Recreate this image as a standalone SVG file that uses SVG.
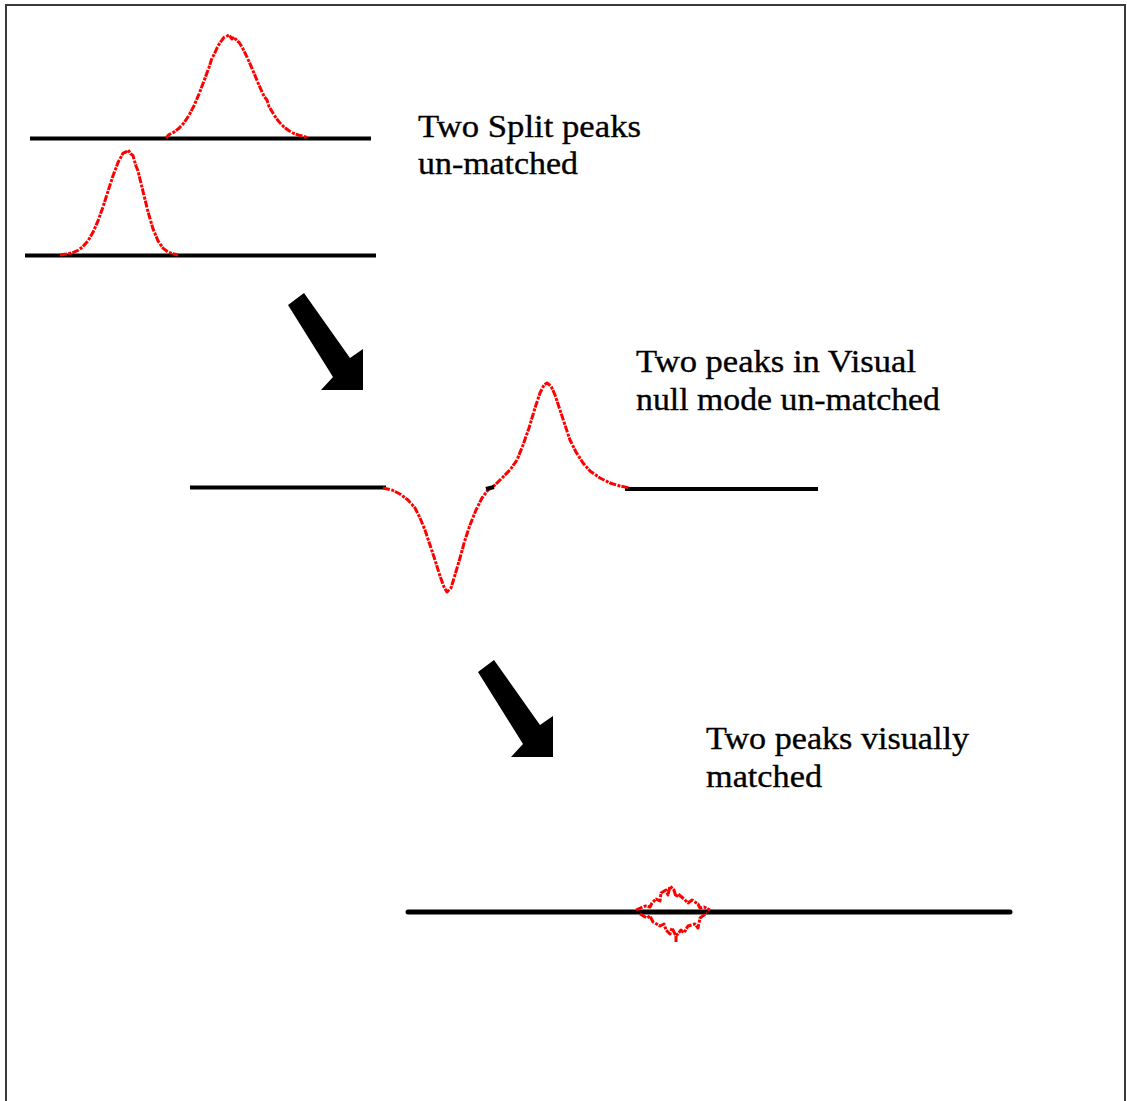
<svg xmlns="http://www.w3.org/2000/svg" width="1127" height="1101" viewBox="0 0 1127 1101">
<defs>
<style>
.frame{stroke:#3a3a3a;stroke-width:2;fill:none}
.base{stroke:#000;stroke-width:4;fill:none;stroke-linecap:butt}
.sig{stroke:#ff0000;stroke-width:3;fill:none;stroke-linejoin:round;stroke-dasharray:7 1.5 3 1}
.lbl{font-family:"Liberation Serif","Times New Roman",serif;font-size:32px;fill:#000;stroke:#000;stroke-width:0.35}
.arrow{fill:#000}
</style>
<polygon id="arrowShape" points="288,305 304,293 350,358 363,349 363,390 321,390 333,377"/>
</defs>
<rect width="1127" height="1101" fill="#fff"/>
<g id="frame">
<line class="frame" x1="6" y1="5" x2="6" y2="1101"/>
<line class="frame" x1="5" y1="5" x2="1126" y2="5"/>
<line class="frame" x1="1125" y1="5" x2="1125" y2="1101"/>
</g>
<g id="split-peaks">
<line class="base" x1="30" y1="138.5" x2="371" y2="138.5"/>
<path class="sig" d="M166,138 L169,134.6 174,132.1 179,128.3 184,122.8 189,115.3 194,105.7 199,94 204,80.9 209,67.4 212,58 214,54.8 217,48 219,44.3 222,40 224,37.4 227,36 229,35 232,39 234,36.9 237,41 239,42.3 242,47 244,50.8 249,61.4 254,73.1 259,85.1 264,96.4 267,100 269,106.5 274,114.9 279,121.8 284,127 289,130.8 294,133.5 299,135.2 304,136.4 308,138"/>
<line class="base" x1="25" y1="255.5" x2="376" y2="255.5"/>
<path class="sig" d="M60,255 L63,254.5 68,253.8 73,252.6 78,250.4 83,246.6 88,240.8 93,232.3 98,220.9 103,206.9 108,191.3 113,175.7 116,168 118,162.4 121,157 123,153.2 126,152 128,150 131,154 133,155.7 136,166 138,170.9 143,191.3 148,211.8 153,228.8 158,240.8 163,248.1 168,252 173,253.8 178,255"/>
<text class="lbl" x="418" y="137" textLength="223" lengthAdjust="spacingAndGlyphs">Two Split peaks</text>
<text class="lbl" x="418" y="174" textLength="160" lengthAdjust="spacingAndGlyphs">un-matched</text>
</g>
<g id="null-mode">
<line class="base" x1="190" y1="487.5" x2="386" y2="487.5"/>
<line class="base" x1="625" y1="489" x2="818" y2="489"/>
<path class="sig" d="M383,488 L392,490 400,494 408,500 415,508 420,518 425,530 430,545 435,560 440,576 444,587 447,592 451,588 455,575 460,558 465,540 470,525 476,510 482,498 488,490 495,485 502,478 510,470 517,460 523,445 529,428 535,408 540,393 544,385 547,383 551,386 555,395 560,410 565,425 570,440 576,452 583,463 590,471 600,478 610,483 620,486 630,488"/>
<line class="base" x1="486" y1="489" x2="494" y2="487"/>
<text class="lbl" x="636" y="372" textLength="280" lengthAdjust="spacingAndGlyphs">Two peaks in Visual</text>
<text class="lbl" x="636" y="410" textLength="304" lengthAdjust="spacingAndGlyphs">null mode un-matched</text>
</g>
<g id="matched">
<line class="base" x1="408" y1="912" x2="1010" y2="912" style="stroke-width:5;stroke-linecap:round"/>
<path class="sig" d="M636,910 L645,906 650,907 652,903 656,899 660,901 661,893 666,890 668,895 670,886 674,890 676,897 678,894 684,899 688,903 692,900 698,904 700,908 704,907 710,910 M640,914 L647,918 650,916 653,922 660,926 664,924 666,930 670,934 672,928 676,936 681,930 684,933 688,926 695,924 698,928 700,918 707,913 M676,936 L676,942"/>
<text class="lbl" x="706" y="749" textLength="263" lengthAdjust="spacingAndGlyphs">Two peaks visually</text>
<text class="lbl" x="706" y="787" textLength="116" lengthAdjust="spacingAndGlyphs">matched</text>
</g>
<g id="connectors">
<use href="#arrowShape" class="arrow"/>
<use href="#arrowShape" class="arrow" transform="translate(190,367)"/>
</g>
</svg>
